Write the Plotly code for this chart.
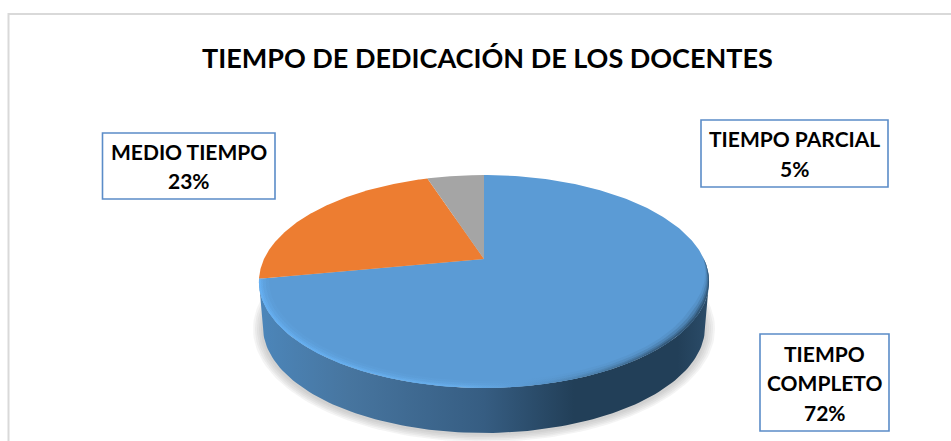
import numpy as np
import plotly.graph_objects as go

categories = ["TIEMPO COMPLETO", "MEDIO TIEMPO", "TIEMPO PARCIAL"]
values = [72, 23, 5]
slice_colors = ["#5B9BD5", "#ED7D31", "#A5A5A5"]
label_lines = [["TIEMPO", "COMPLETO"], ["MEDIO TIEMPO"], ["TIEMPO PARCIAL"]]
label_boxes = [(760, 334, 889, 431), (102.5, 133, 275, 199), (701, 120, 888, 187)]
title = "TIEMPO DE DEDICACIÓN DE LOS DOCENTES"

CX, CY, A, B, K = 484.0, 259.0, 220.0, 101.7, 0.211


def rim(theta_deg, r=1.0):
    t = np.radians(theta_deg)
    u, v = r * np.sin(t), r * np.cos(t)
    d = 1 + K * v
    return CX + A * u / d, CY - B * v / d


fig = go.Figure()


def add_poly(x, y, name="", color=None, gradient=None, opacity=1):
    kw = dict(fillcolor=color) if gradient is None else dict(fillgradient=gradient)
    fig.add_trace(go.Scatter(x=x, y=y, mode="lines", fill="toself", name=name, opacity=opacity,
                             line=dict(width=0), hoverinfo="skip", showlegend=False, **kw))


# soft shadow
for grow in [10, 8, 6, 4, 2]:
    t = np.linspace(0, 2 * np.pi, 200)
    add_poly(484 + (221 + grow) * np.cos(t), 329 + (105 + grow * 0.8) * np.sin(t),
             color="rgba(150,150,150,0.10)")

# side wall
front = np.linspace(102.2, 257.8, 120)
rx, ry = rim(front)
t = np.linspace(np.pi, 0, 120)
bx, by = 484 + 221 * np.cos(t), 327 + 106 * np.sin(t)
wall_scale = [[0, "#4C86BA"], [0.2, "#47759F"], [0.5, "#365D82"], [0.7, "#223F58"],
              [0.93, "#223F58"], [1, "#2B4C69"]]
add_poly(np.r_[rx, bx], np.r_[ry, by],
         gradient=dict(type="horizontal", colorscale=wall_scale, start=259, stop=709))

# top face slices from values
shares = np.array(values, dtype=float) / sum(values)
edges = np.r_[0, np.cumsum(shares)] * 360
for i, name in enumerate(categories):
    th = np.linspace(edges[i], edges[i + 1], 240)
    x, y = rim(th)
    add_poly(np.r_[CX, x, CX], np.r_[CY, y, CY], name=name, color=slice_colors[i])

# soft bevel on the front edge of the blue slice
bevel_scale = [[0, "#66B0F2"], [0.45, "#68AEEB"], [0.58, "#5B9BD5"], [0.75, "#4A7DA8"],
               [0.9, "#34597A"], [1, "#2F5372"]]
th = np.linspace(88, edges[1], 240)
taper = np.clip((th - 88) / 30, 0, 1)
for width, opacity in [(0.008, 0.9), (0.016, 0.45), (0.028, 0.25), (0.042, 0.12)]:
    ox, oy = rim(th)
    ix, iy = rim(th, 1 - width * taper)
    add_poly(np.r_[ox, ix[::-1]], np.r_[oy, iy[::-1]], opacity=opacity,
             gradient=dict(type="horizontal", colorscale=bevel_scale, start=259, stop=709))

# label boxes
shapes = [dict(type="rect", x0=b[0], y0=b[1], x1=b[2], y1=b[3], xref="x", yref="y",
               line=dict(color="#5B8CC8", width=1.6), fillcolor="white") for b in label_boxes]
shapes.append(dict(type="rect", x0=8.5, y0=14, x1=1000, y1=500, xref="x", yref="y",
                   line=dict(color="#D9D9D9", width=2), layer="below"))

font = dict(family="Lato", size=21, color="#000000")
annotations = []
for lines, v, b in zip(label_lines, values, label_boxes):
    rows = lines + [f"{v}%"]
    mid = (b[1] + b[3]) / 2
    for j, row in enumerate(rows):
        annotations.append(dict(x=(b[0] + b[2]) / 2, y=mid + (j - (len(rows) - 1) / 2) * 29.5,
                                xref="x", yref="y", text=f"<b>{row}</b>", showarrow=False,
                                font=font, xanchor="center", yanchor="middle"))
annotations.append(dict(x=487, y=57, xref="x", yref="y", text=f"<b>{title}</b>", showarrow=False,
                        font=dict(family="Lato", size=27, color="#000000"),
                        xanchor="center", yanchor="middle"))

fig.update_layout(width=951, height=441, margin=dict(l=0, r=0, t=0, b=0),
                  paper_bgcolor="white", plot_bgcolor="white", showlegend=False,
                  xaxis=dict(range=[0, 951], visible=False, fixedrange=True),
                  yaxis=dict(range=[441, 0], visible=False, fixedrange=True),
                  shapes=shapes, annotations=annotations)
fig.write_html("out.html", config=dict(displayModeBar=False),
               post_script="document.body.style.margin='0';document.body.style.overflow='hidden';")
